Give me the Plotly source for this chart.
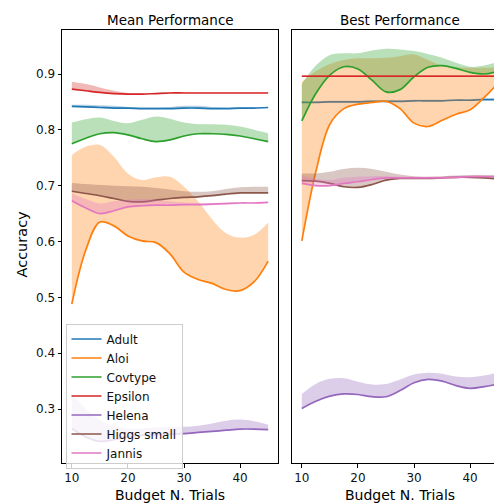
import plotly.graph_objects as go

# ---------------- data ----------------
budget = [10, 12.5, 15, 17.5, 20, 22.5, 25, 27.5, 30, 32.5, 35, 37.5, 40, 42.5, 45]
datasets = ["Adult", "Aloi", "Covtype", "Epsilon", "Helena", "Higgs small", "Jannis"]
y_ticks = [0.3, 0.4, 0.5, 0.6, 0.7, 0.8, 0.9]
x_ticks = [10, 20, 30, 40]

# Mean performance (line) and upper edge of shaded band
mean_adult = [0.842, 0.841, 0.840, 0.839, 0.839, 0.838, 0.838, 0.838, 0.839, 0.839, 0.838, 0.838, 0.839, 0.839, 0.840]
mean_adult_hi = [0.845, 0.845, 0.844, 0.843, 0.841, 0.840, 0.840, 0.841, 0.843, 0.843, 0.841, 0.840, 0.840, 0.840, 0.841]
mean_aloi = [0.488, 0.585, 0.635, 0.628, 0.610, 0.601, 0.598, 0.578, 0.545, 0.532, 0.525, 0.514, 0.512, 0.528, 0.565]
mean_aloi_hi = [0.755, 0.770, 0.773, 0.752, 0.722, 0.710, 0.715, 0.716, 0.698, 0.672, 0.640, 0.615, 0.607, 0.612, 0.634]
mean_covtype = [0.775, 0.785, 0.793, 0.795, 0.791, 0.784, 0.779, 0.782, 0.789, 0.793, 0.793, 0.792, 0.789, 0.784, 0.779]
mean_covtype_hi = [0.813, 0.819, 0.822, 0.816, 0.812, 0.818, 0.824, 0.820, 0.813, 0.810, 0.810, 0.809, 0.806, 0.800, 0.794]
mean_epsilon = [0.873, 0.870, 0.867, 0.865, 0.864, 0.864, 0.865, 0.866, 0.866, 0.866, 0.866, 0.866, 0.866, 0.866, 0.866]
mean_epsilon_hi = [0.886, 0.882, 0.876, 0.870, 0.866, 0.865, 0.866, 0.867, 0.867, 0.867, 0.867, 0.867, 0.867, 0.867, 0.867]
mean_helena = [0.265, 0.250, 0.242, 0.245, 0.250, 0.253, 0.254, 0.255, 0.256, 0.258, 0.260, 0.262, 0.264, 0.264, 0.263]
mean_helena_hi = [0.328, 0.300, 0.280, 0.270, 0.265, 0.265, 0.267, 0.268, 0.268, 0.270, 0.274, 0.279, 0.281, 0.278, 0.272]
mean_higgs = [0.690, 0.686, 0.682, 0.677, 0.672, 0.671, 0.674, 0.677, 0.679, 0.680, 0.682, 0.685, 0.687, 0.687, 0.687]
mean_higgs_hi = [0.705, 0.703, 0.701, 0.700, 0.699, 0.698, 0.696, 0.693, 0.690, 0.689, 0.690, 0.694, 0.697, 0.698, 0.698]
mean_jannis = [0.673, 0.660, 0.650, 0.655, 0.662, 0.664, 0.665, 0.665, 0.666, 0.666, 0.667, 0.668, 0.669, 0.669, 0.670]
mean_jannis_hi = [0.686, 0.676, 0.668, 0.672, 0.675, 0.676, 0.675, 0.672, 0.670, 0.669, 0.669, 0.670, 0.670, 0.670, 0.671]

# Best performance (line) and upper edge of shaded band
best_adult = [0.849, 0.849, 0.850, 0.850, 0.850, 0.851, 0.851, 0.851, 0.852, 0.852, 0.852, 0.853, 0.853, 0.854, 0.854]
best_adult_hi = [0.851, 0.851, 0.852, 0.852, 0.852, 0.853, 0.853, 0.853, 0.854, 0.854, 0.854, 0.855, 0.855, 0.856, 0.856]
best_aloi = [0.601, 0.725, 0.810, 0.838, 0.846, 0.849, 0.851, 0.838, 0.812, 0.806, 0.817, 0.828, 0.836, 0.858, 0.884]
best_aloi_hi = [0.886, 0.905, 0.918, 0.925, 0.928, 0.928, 0.929, 0.932, 0.935, 0.925, 0.915, 0.912, 0.911, 0.911, 0.912]
best_covtype = [0.816, 0.865, 0.898, 0.913, 0.909, 0.889, 0.868, 0.872, 0.895, 0.912, 0.915, 0.910, 0.903, 0.900, 0.905]
best_covtype_hi = [0.882, 0.915, 0.934, 0.937, 0.937, 0.942, 0.945, 0.944, 0.941, 0.936, 0.929, 0.920, 0.913, 0.915, 0.922]
best_epsilon = [0.896, 0.896, 0.896, 0.896, 0.896, 0.896, 0.896, 0.896, 0.896, 0.896, 0.896, 0.896, 0.896, 0.896, 0.896]
best_epsilon_hi = [0.898, 0.898, 0.898, 0.898, 0.898, 0.898, 0.898, 0.898, 0.898, 0.898, 0.898, 0.898, 0.898, 0.898, 0.898]
best_helena = [0.301, 0.314, 0.323, 0.327, 0.326, 0.322, 0.322, 0.333, 0.347, 0.353, 0.350, 0.342, 0.337, 0.340, 0.345]
best_helena_hi = [0.327, 0.345, 0.354, 0.355, 0.349, 0.344, 0.345, 0.353, 0.362, 0.365, 0.363, 0.358, 0.357, 0.360, 0.365]
best_higgs = [0.709, 0.708, 0.704, 0.698, 0.697, 0.702, 0.710, 0.713, 0.713, 0.713, 0.714, 0.715, 0.715, 0.714, 0.712]
best_higgs_hi = [0.722, 0.722, 0.725, 0.730, 0.732, 0.730, 0.725, 0.720, 0.717, 0.716, 0.717, 0.718, 0.719, 0.719, 0.719]
best_jannis = [0.704, 0.700, 0.700, 0.704, 0.707, 0.711, 0.714, 0.714, 0.714, 0.714, 0.714, 0.715, 0.716, 0.716, 0.716]
best_jannis_hi = [0.718, 0.712, 0.710, 0.714, 0.716, 0.717, 0.717, 0.716, 0.716, 0.716, 0.716, 0.717, 0.718, 0.718, 0.718]

# ---------------- style ----------------
COLORS = ["#1f77b4", "#ff7f0e", "#2ca02c", "#d62728", "#9467bd", "#8c564b", "#e377c2"]
FONT = "DejaVu Sans"
PAGE_MARGIN = 8          # default <body> margin of the html page
W, H = 502 - PAGE_MARGIN, 504 - PAGE_MARGIN


def rgba(hex_color, a):
    h = hex_color.lstrip("#")
    r, g, b = int(h[0:2], 16), int(h[2:4], 16), int(h[4:6], 16)
    return f"rgba({r},{g},{b},{a})"


def px_x(p):  # window pixel -> paper fraction
    return (p - PAGE_MARGIN) / W


def px_y(p):
    return 1 - (p - PAGE_MARGIN) / H


mean_series = [
    (mean_adult, mean_adult_hi), (mean_aloi, mean_aloi_hi), (mean_covtype, mean_covtype_hi),
    (mean_epsilon, mean_epsilon_hi), (mean_helena, mean_helena_hi), (mean_higgs, mean_higgs_hi),
    (mean_jannis, mean_jannis_hi),
]
best_series = [
    (best_adult, best_adult_hi), (best_aloi, best_aloi_hi), (best_covtype, best_covtype_hi),
    (best_epsilon, best_epsilon_hi), (best_helena, best_helena_hi), (best_higgs, best_higgs_hi),
    (best_jannis, best_jannis_hi),
]

fig = go.Figure()

for series, xa, ya, show in [(mean_series, "x", "y", True), (best_series, "x2", "y2", False)]:
    for name, color, (line, hi) in zip(datasets, COLORS, series):
        fig.add_trace(go.Scatter(
            x=budget, y=line, mode="lines", name=name, legendgroup=name,
            showlegend=show, xaxis=xa, yaxis=ya,
            line=dict(color=color, width=1.7, shape="spline", smoothing=1.0),
        ))
        fig.add_trace(go.Scatter(
            x=budget, y=hi, mode="lines", legendgroup=name, showlegend=False,
            xaxis=xa, yaxis=ya, fill="tonexty", fillcolor=rgba(color, 0.33),
            line=dict(color=rgba(color, 0.0), width=0, shape="spline", smoothing=1.0),
        ))

# window-pixel geometry (as seen in the reference)
left_x0, left_x1 = 62, 278
right_x0, right_x1 = 292, 502
top_px, bot_px = 30, 463

axis_common = dict(
    showline=True, linecolor="black", linewidth=1, ticks="outside", ticklen=3.5,
    tickwidth=0.8, tickcolor="black", showgrid=False, zeroline=False,
    tickfont=dict(family=FONT, size=12, color="#111"), automargin=False,
)

fig.update_layout(
    width=W, height=H,
    margin=dict(l=0, r=0, t=0, b=0),
    paper_bgcolor="white", plot_bgcolor="white",
    font=dict(family=FONT, size=12, color="black"),
    xaxis=dict(domain=[px_x(left_x0), px_x(left_x1)], range=[8.25, 46.75],
               tickvals=x_ticks, mirror=True, anchor="y", **axis_common),
    yaxis=dict(domain=[px_y(bot_px), px_y(top_px)], range=[0.2033, 0.9788],
               tickvals=y_ticks, ticktext=[f"{v:.1f}" for v in y_ticks],
               mirror=True, anchor="x", **axis_common),
    xaxis2=dict(domain=[px_x(right_x0), px_x(right_x1)], range=[8.25, 45.68],
                tickvals=x_ticks, mirror=True, anchor="y2", **axis_common),
    yaxis2=dict(domain=[px_y(bot_px), px_y(top_px)], range=[0.2033, 0.9788],
                tickvals=y_ticks, showticklabels=False, ticks="", anchor="x2",
                showline=True, linecolor="black", linewidth=1, mirror=False,
                showgrid=False, zeroline=False, automargin=False),
    legend=dict(
        x=px_x(65.5), y=px_y(323.5), xanchor="left", yanchor="top",
        bgcolor="rgba(255,255,255,0.8)", bordercolor="#cccccc", borderwidth=1,
        font=dict(family=FONT, size=12, color="#111"),
        tracegroupgap=0,
    ),
    showlegend=True,
)

ann_font = dict(family=FONT, color="black")
annotations = [
    dict(text="Mean Performance", x=px_x((left_x0 + left_x1) / 2), y=px_y(19.5),
         font=dict(size=13.5, **ann_font)),
    dict(text="Best Performance", x=px_x((right_x0 + 508) / 2), y=px_y(19.5),
         font=dict(size=13.5, **ann_font)),
    dict(text="Budget N. Trials", x=px_x((left_x0 + left_x1) / 2), y=px_y(495),
         font=dict(size=14, **ann_font)),
    dict(text="Budget N. Trials", x=px_x((right_x0 + 508) / 2), y=px_y(495),
         font=dict(size=14, **ann_font)),
    dict(text="Accuracy", x=px_x(21.5), y=px_y(244), textangle=-90,
         font=dict(size=14.5, **ann_font)),
]
for a in annotations:
    a.update(xref="paper", yref="paper", xanchor="center", yanchor="middle", showarrow=False)
fig.update_layout(annotations=annotations)

fig.write_html("out.html")
